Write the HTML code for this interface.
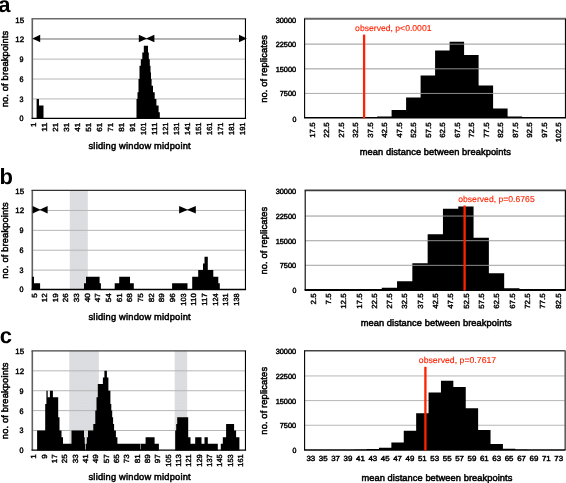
<!DOCTYPE html>
<html><head><meta charset="utf-8"><title>Figure</title>
<style>
html,body{margin:0;padding:0;background:#fff;}
svg{display:block;will-change:transform;}
text{font-family:'Liberation Sans', Arial, Helvetica, sans-serif;fill:#000;stroke:#000;stroke-width:0.45px;text-rendering:geometricPrecision;}
text.r{fill:#ff2200;stroke:#ff2200;stroke-width:0.12px;}
text.big{stroke:none;}
text.xt{stroke-width:0.4px;}
text.ti{stroke-width:0.5px;}
</style></head>
<body>
<svg width="566" height="483" viewBox="0 0 566 483">
<defs><pattern id="dots" width="2.8" height="2.8" patternUnits="userSpaceOnUse"><rect width="2.8" height="2.8" fill="#dddee1"/><circle cx="0.7" cy="0.7" r="0.45" fill="#cfd2da"/><circle cx="2.1" cy="2.1" r="0.45" fill="#d3d5dc"/></pattern></defs>
<rect width="566" height="483" fill="#fff"/>
<line x1="32.3" x2="245.6" y1="98.91" y2="98.91" stroke="#b6b6b6" stroke-width="1.0"/>
<line x1="32.3" x2="245.6" y1="79.02" y2="79.02" stroke="#b6b6b6" stroke-width="1.0"/>
<line x1="32.3" x2="245.6" y1="59.13" y2="59.13" stroke="#b6b6b6" stroke-width="1.0"/>
<line x1="32.3" x2="245.6" y1="39.24" y2="39.24" stroke="#b6b6b6" stroke-width="1.0"/>
<line x1="32.3" x2="32.3" y1="18.8" y2="118.3" stroke="#606060" stroke-width="1.6"/>
<path d="M36.60 118.80V98.91H39.00V118.80ZM39.00 118.80V105.54H43.50V118.80ZM136.50 118.80V98.91H137.50V118.80ZM137.50 118.80V92.28H138.50V118.80ZM138.50 118.80V79.02H139.50V118.80ZM139.50 118.80V65.76H140.80V118.80ZM140.80 118.80V59.13H142.30V118.80ZM142.30 118.80V52.50H143.80V118.80ZM143.80 118.80V45.87H148.00V118.80ZM148.00 118.80V52.50H148.80V118.80ZM148.80 118.80V59.13H149.80V118.80ZM149.80 118.80V65.76H150.50V118.80ZM150.50 118.80V72.39H151.00V118.80ZM151.00 118.80V79.02H151.60V118.80ZM151.60 118.80V85.65H153.00V118.80ZM153.00 118.80V92.28H154.70V118.80ZM154.70 118.80V98.91H156.40V118.80ZM156.40 118.80V105.54H158.60V118.80ZM158.60 118.80V112.17H159.80V118.80Z" fill="#000"/>
<line x1="31.499999999999996" x2="246.1" y1="18.8" y2="18.8" stroke="#6a6a6a" stroke-width="1.6"/>
<line x1="245.45" x2="245.45" y1="18.8" y2="118.3" stroke="#000" stroke-width="1.1"/>
<line x1="31.499999999999996" x2="246.1" y1="118.3" y2="118.3" stroke="#000" stroke-width="1.3"/>
<line x1="34" x2="244" y1="38.84" y2="38.84" stroke="#8c8c8c" stroke-width="0.9"/>
<path d="M32.4 38.54L40.2 34.74V42.34Z" fill="#000"/>
<path d="M147.0 38.54L138.8 34.74V42.34Z" fill="#000"/>
<path d="M146.0 38.54L154.4 34.74V42.34Z" fill="#000"/>
<path d="M246.9 38.54L239.0 34.74V42.34Z" fill="#000"/>
<text transform="translate(23.60 121.20)" font-size="7.8" text-anchor="end" textLength="3.99" lengthAdjust="spacingAndGlyphs">0</text>
<text transform="translate(23.60 101.81)" font-size="7.8" text-anchor="end" textLength="3.99" lengthAdjust="spacingAndGlyphs">3</text>
<text transform="translate(23.60 81.92)" font-size="7.8" text-anchor="end" textLength="3.99" lengthAdjust="spacingAndGlyphs">6</text>
<text transform="translate(23.60 62.03)" font-size="7.8" text-anchor="end" textLength="3.99" lengthAdjust="spacingAndGlyphs">9</text>
<text transform="translate(24.10 42.14)" font-size="7.8" text-anchor="end" textLength="8.85" lengthAdjust="spacingAndGlyphs">12</text>
<text transform="translate(24.10 22.75)" font-size="7.8" text-anchor="end" textLength="8.85" lengthAdjust="spacingAndGlyphs">15</text>
<text transform="translate(7.90 69.10) rotate(-90)" font-size="9.3" text-anchor="middle" textLength="76.50" lengthAdjust="spacing" class="ti">no. of breakpoints</text>
<text transform="translate(35.95 122.60) rotate(-90)" font-size="7.4" text-anchor="end" textLength="4.53" lengthAdjust="spacingAndGlyphs" class="xt">1</text>
<text transform="translate(46.97 122.60) rotate(-90)" font-size="7.4" text-anchor="end" textLength="9.05" lengthAdjust="spacingAndGlyphs" class="xt">11</text>
<text transform="translate(57.99 122.60) rotate(-90)" font-size="7.4" text-anchor="end" textLength="9.05" lengthAdjust="spacingAndGlyphs" class="xt">21</text>
<text transform="translate(69.01 122.60) rotate(-90)" font-size="7.4" text-anchor="end" textLength="9.05" lengthAdjust="spacingAndGlyphs" class="xt">31</text>
<text transform="translate(80.03 122.60) rotate(-90)" font-size="7.4" text-anchor="end" textLength="9.05" lengthAdjust="spacingAndGlyphs" class="xt">41</text>
<text transform="translate(91.05 122.60) rotate(-90)" font-size="7.4" text-anchor="end" textLength="9.05" lengthAdjust="spacingAndGlyphs" class="xt">51</text>
<text transform="translate(102.07 122.60) rotate(-90)" font-size="7.4" text-anchor="end" textLength="9.05" lengthAdjust="spacingAndGlyphs" class="xt">61</text>
<text transform="translate(113.09 122.60) rotate(-90)" font-size="7.4" text-anchor="end" textLength="9.05" lengthAdjust="spacingAndGlyphs" class="xt">71</text>
<text transform="translate(124.11 122.60) rotate(-90)" font-size="7.4" text-anchor="end" textLength="9.05" lengthAdjust="spacingAndGlyphs" class="xt">81</text>
<text transform="translate(135.13 122.60) rotate(-90)" font-size="7.4" text-anchor="end" textLength="9.05" lengthAdjust="spacingAndGlyphs" class="xt">91</text>
<text transform="translate(146.15 122.60) rotate(-90)" font-size="7.4" text-anchor="end" textLength="12.34" lengthAdjust="spacingAndGlyphs" class="xt">101</text>
<text transform="translate(157.17 122.60) rotate(-90)" font-size="7.4" text-anchor="end" textLength="12.34" lengthAdjust="spacingAndGlyphs" class="xt">111</text>
<text transform="translate(168.19 122.60) rotate(-90)" font-size="7.4" text-anchor="end" textLength="12.34" lengthAdjust="spacingAndGlyphs" class="xt">121</text>
<text transform="translate(179.21 122.60) rotate(-90)" font-size="7.4" text-anchor="end" textLength="12.34" lengthAdjust="spacingAndGlyphs" class="xt">131</text>
<text transform="translate(190.23 122.60) rotate(-90)" font-size="7.4" text-anchor="end" textLength="12.34" lengthAdjust="spacingAndGlyphs" class="xt">141</text>
<text transform="translate(201.25 122.60) rotate(-90)" font-size="7.4" text-anchor="end" textLength="12.34" lengthAdjust="spacingAndGlyphs" class="xt">151</text>
<text transform="translate(212.27 122.60) rotate(-90)" font-size="7.4" text-anchor="end" textLength="12.34" lengthAdjust="spacingAndGlyphs" class="xt">161</text>
<text transform="translate(223.29 122.60) rotate(-90)" font-size="7.4" text-anchor="end" textLength="12.34" lengthAdjust="spacingAndGlyphs" class="xt">171</text>
<text transform="translate(234.31 122.60) rotate(-90)" font-size="7.4" text-anchor="end" textLength="12.34" lengthAdjust="spacingAndGlyphs" class="xt">181</text>
<text transform="translate(245.33 122.60) rotate(-90)" font-size="7.4" text-anchor="end" textLength="12.34" lengthAdjust="spacingAndGlyphs" class="xt">191</text>
<text transform="translate(88.50 148.60)" font-size="9.3" text-anchor="start" textLength="102.20" lengthAdjust="spacing" class="ti">sliding window midpoint</text>
<line x1="304.6" x2="565.6" y1="93.45" y2="93.45" stroke="#b6b6b6" stroke-width="1.0"/>
<line x1="304.6" x2="565.6" y1="68.80" y2="68.80" stroke="#b6b6b6" stroke-width="1.0"/>
<line x1="304.6" x2="565.6" y1="44.15" y2="44.15" stroke="#b6b6b6" stroke-width="1.0"/>
<path d="M362.60 118.10V117.90H377.10V118.10ZM377.10 118.10V116.46H391.60V118.10ZM391.60 118.10V110.05H406.10V118.10ZM406.10 118.10V97.49H420.60V118.10ZM420.60 118.10V75.54H435.10V118.10ZM435.10 118.10V50.56H449.60V118.10ZM449.60 118.10V41.85H464.10V118.10ZM464.10 118.10V55.00H478.60V118.10ZM478.60 118.10V85.56H493.10V118.10ZM493.10 118.10V108.57H507.60V118.10ZM507.60 118.10V116.52H522.10V118.10ZM522.10 118.10V117.74H536.60V118.10ZM536.60 118.10V118.00H551.10V118.10Z" fill="#000"/>
<line x1="304.6" x2="565.6" y1="93.45" y2="93.45" stroke="#b0b0b0" stroke-width="0.8"/>
<line x1="304.6" x2="565.6" y1="68.80" y2="68.80" stroke="#b0b0b0" stroke-width="0.8"/>
<line x1="304.6" x2="565.6" y1="44.15" y2="44.15" stroke="#b0b0b0" stroke-width="0.8"/>
<line x1="304.0" x2="566.1" y1="18.8" y2="18.8" stroke="#666" stroke-width="2.0"/>
<line x1="304.6" x2="304.6" y1="18.8" y2="117.85" stroke="#000" stroke-width="1.1"/>
<rect x="564.90" y="18.8" width="1.60" height="99.05" fill="#0a0a0a"/>
<line x1="304.0" x2="566.1" y1="117.85" y2="117.85" stroke="#000" stroke-width="1.5"/>
<line x1="364.1" x2="364.1" y1="34.6" y2="118.35" stroke="#ff2200" stroke-width="2.3"/>
<text transform="translate(355.10 31.40)" font-size="8.5" text-anchor="start" textLength="76.40" lengthAdjust="spacingAndGlyphs" class="r">observed, p&lt;0.0001</text>
<text transform="translate(296.40 122.00)" font-size="7.4" text-anchor="end" textLength="3.91" lengthAdjust="spacingAndGlyphs">0</text>
<text transform="translate(296.20 96.45)" font-size="7.4" text-anchor="end" textLength="16.46" lengthAdjust="spacingAndGlyphs">7500</text>
<text transform="translate(296.20 71.80)" font-size="7.4" text-anchor="end" textLength="20.57" lengthAdjust="spacingAndGlyphs">15000</text>
<text transform="translate(296.20 47.15)" font-size="7.4" text-anchor="end" textLength="20.57" lengthAdjust="spacingAndGlyphs">22500</text>
<text transform="translate(296.20 22.50)" font-size="7.4" text-anchor="end" textLength="20.57" lengthAdjust="spacingAndGlyphs">30000</text>
<text transform="translate(267.00 68.95) rotate(-90)" font-size="9.3" text-anchor="middle" textLength="67.70" lengthAdjust="spacing" class="ti">no. of replicates</text>
<text transform="translate(314.65 122.40) rotate(-90)" font-size="7.4" text-anchor="end" textLength="15.41" lengthAdjust="spacingAndGlyphs" class="xt">17.5</text>
<text transform="translate(329.15 122.40) rotate(-90)" font-size="7.4" text-anchor="end" textLength="15.41" lengthAdjust="spacingAndGlyphs" class="xt">22.5</text>
<text transform="translate(343.65 122.40) rotate(-90)" font-size="7.4" text-anchor="end" textLength="15.41" lengthAdjust="spacingAndGlyphs" class="xt">27.5</text>
<text transform="translate(358.15 122.40) rotate(-90)" font-size="7.4" text-anchor="end" textLength="15.41" lengthAdjust="spacingAndGlyphs" class="xt">32.5</text>
<text transform="translate(372.65 122.40) rotate(-90)" font-size="7.4" text-anchor="end" textLength="15.41" lengthAdjust="spacingAndGlyphs" class="xt">37.5</text>
<text transform="translate(387.15 122.40) rotate(-90)" font-size="7.4" text-anchor="end" textLength="15.41" lengthAdjust="spacingAndGlyphs" class="xt">42.5</text>
<text transform="translate(401.65 122.40) rotate(-90)" font-size="7.4" text-anchor="end" textLength="15.41" lengthAdjust="spacingAndGlyphs" class="xt">47.5</text>
<text transform="translate(416.15 122.40) rotate(-90)" font-size="7.4" text-anchor="end" textLength="15.41" lengthAdjust="spacingAndGlyphs" class="xt">52.5</text>
<text transform="translate(430.65 122.40) rotate(-90)" font-size="7.4" text-anchor="end" textLength="15.41" lengthAdjust="spacingAndGlyphs" class="xt">57.5</text>
<text transform="translate(445.15 122.40) rotate(-90)" font-size="7.4" text-anchor="end" textLength="15.41" lengthAdjust="spacingAndGlyphs" class="xt">62.5</text>
<text transform="translate(459.65 122.40) rotate(-90)" font-size="7.4" text-anchor="end" textLength="15.41" lengthAdjust="spacingAndGlyphs" class="xt">67.5</text>
<text transform="translate(474.15 122.40) rotate(-90)" font-size="7.4" text-anchor="end" textLength="15.41" lengthAdjust="spacingAndGlyphs" class="xt">72.5</text>
<text transform="translate(488.65 122.40) rotate(-90)" font-size="7.4" text-anchor="end" textLength="15.41" lengthAdjust="spacingAndGlyphs" class="xt">77.5</text>
<text transform="translate(503.15 122.40) rotate(-90)" font-size="7.4" text-anchor="end" textLength="15.41" lengthAdjust="spacingAndGlyphs" class="xt">82.5</text>
<text transform="translate(517.65 122.40) rotate(-90)" font-size="7.4" text-anchor="end" textLength="15.41" lengthAdjust="spacingAndGlyphs" class="xt">87.5</text>
<text transform="translate(532.15 122.40) rotate(-90)" font-size="7.4" text-anchor="end" textLength="15.41" lengthAdjust="spacingAndGlyphs" class="xt">92.5</text>
<text transform="translate(546.65 122.40) rotate(-90)" font-size="7.4" text-anchor="end" textLength="15.41" lengthAdjust="spacingAndGlyphs" class="xt">97.5</text>
<text transform="translate(561.15 122.40) rotate(-90)" font-size="7.4" text-anchor="end" textLength="19.81" lengthAdjust="spacingAndGlyphs" class="xt">102.5</text>
<text transform="translate(359.80 154.60)" font-size="9.3" text-anchor="start" textLength="151.00" lengthAdjust="spacing" class="ti">mean distance between breakpoints</text>
<rect x="69.8" y="190.35" width="18.00" height="99.15" fill="url(#dots)"/>
<line x1="32.3" x2="245.6" y1="270.11" y2="270.11" stroke="#b6b6b6" stroke-width="1.0"/>
<line x1="32.3" x2="245.6" y1="250.22" y2="250.22" stroke="#b6b6b6" stroke-width="1.0"/>
<line x1="32.3" x2="245.6" y1="230.33" y2="230.33" stroke="#b6b6b6" stroke-width="1.0"/>
<line x1="32.3" x2="245.6" y1="210.44" y2="210.44" stroke="#b6b6b6" stroke-width="1.0"/>
<line x1="32.3" x2="32.3" y1="190.35" y2="289.5" stroke="#606060" stroke-width="1.6"/>
<path d="M31.90 290.00V276.74H34.00V290.00ZM34.00 290.00V283.37H40.10V290.00ZM84.00 290.00V283.37H86.00V290.00ZM86.00 290.00V276.74H99.60V290.00ZM99.60 290.00V283.37H100.90V290.00ZM114.70 290.00V283.37H119.20V290.00ZM119.20 290.00V276.74H130.00V290.00ZM130.00 290.00V283.37H133.80V290.00ZM172.10 290.00V283.37H187.50V290.00ZM192.20 290.00V276.74H198.20V290.00ZM198.20 290.00V270.11H203.00V290.00ZM203.00 290.00V263.48H204.50V290.00ZM204.50 290.00V256.85H207.80V290.00ZM207.80 290.00V270.11H213.30V290.00ZM213.30 290.00V276.74H218.30V290.00ZM218.30 290.00V283.37H219.80V290.00Z" fill="#000"/>
<line x1="31.499999999999996" x2="246.1" y1="190.35" y2="190.35" stroke="#333" stroke-width="1.35"/>
<line x1="245.45" x2="245.45" y1="190.35" y2="289.5" stroke="#000" stroke-width="1.1"/>
<line x1="31.499999999999996" x2="246.1" y1="289.5" y2="289.5" stroke="#000" stroke-width="1.3"/>
<path d="M40.6 209.74L32.6 205.94V213.54Z" fill="#000"/>
<path d="M39.6 209.74L47.6 205.94V213.54Z" fill="#000"/>
<path d="M187.9 209.74L179.1 205.94V213.54Z" fill="#000"/>
<path d="M186.9 209.74L195.8 205.94V213.54Z" fill="#000"/>
<text transform="translate(23.60 292.40)" font-size="7.8" text-anchor="end" textLength="3.99" lengthAdjust="spacingAndGlyphs">0</text>
<text transform="translate(23.60 273.01)" font-size="7.8" text-anchor="end" textLength="3.99" lengthAdjust="spacingAndGlyphs">3</text>
<text transform="translate(23.60 253.12)" font-size="7.8" text-anchor="end" textLength="3.99" lengthAdjust="spacingAndGlyphs">6</text>
<text transform="translate(23.60 233.23)" font-size="7.8" text-anchor="end" textLength="3.99" lengthAdjust="spacingAndGlyphs">9</text>
<text transform="translate(24.10 213.34)" font-size="7.8" text-anchor="end" textLength="8.85" lengthAdjust="spacingAndGlyphs">12</text>
<text transform="translate(24.10 193.95)" font-size="7.8" text-anchor="end" textLength="8.85" lengthAdjust="spacingAndGlyphs">15</text>
<text transform="translate(7.90 240.48) rotate(-90)" font-size="9.3" text-anchor="middle" textLength="76.50" lengthAdjust="spacing" class="ti">no. of breakpoints</text>
<text transform="translate(36.50 293.30) rotate(-90)" font-size="7.4" text-anchor="end" textLength="4.53" lengthAdjust="spacingAndGlyphs" class="xt">5</text>
<text transform="translate(47.15 293.30) rotate(-90)" font-size="7.4" text-anchor="end" textLength="9.05" lengthAdjust="spacingAndGlyphs" class="xt">12</text>
<text transform="translate(57.80 293.30) rotate(-90)" font-size="7.4" text-anchor="end" textLength="9.05" lengthAdjust="spacingAndGlyphs" class="xt">19</text>
<text transform="translate(68.45 293.30) rotate(-90)" font-size="7.4" text-anchor="end" textLength="9.05" lengthAdjust="spacingAndGlyphs" class="xt">26</text>
<text transform="translate(79.10 293.30) rotate(-90)" font-size="7.4" text-anchor="end" textLength="9.05" lengthAdjust="spacingAndGlyphs" class="xt">33</text>
<text transform="translate(89.75 293.30) rotate(-90)" font-size="7.4" text-anchor="end" textLength="9.05" lengthAdjust="spacingAndGlyphs" class="xt">40</text>
<text transform="translate(100.40 293.30) rotate(-90)" font-size="7.4" text-anchor="end" textLength="9.05" lengthAdjust="spacingAndGlyphs" class="xt">47</text>
<text transform="translate(111.05 293.30) rotate(-90)" font-size="7.4" text-anchor="end" textLength="9.05" lengthAdjust="spacingAndGlyphs" class="xt">54</text>
<text transform="translate(121.70 293.30) rotate(-90)" font-size="7.4" text-anchor="end" textLength="9.05" lengthAdjust="spacingAndGlyphs" class="xt">61</text>
<text transform="translate(132.35 293.30) rotate(-90)" font-size="7.4" text-anchor="end" textLength="9.05" lengthAdjust="spacingAndGlyphs" class="xt">68</text>
<text transform="translate(143.00 293.30) rotate(-90)" font-size="7.4" text-anchor="end" textLength="9.05" lengthAdjust="spacingAndGlyphs" class="xt">75</text>
<text transform="translate(153.65 293.30) rotate(-90)" font-size="7.4" text-anchor="end" textLength="9.05" lengthAdjust="spacingAndGlyphs" class="xt">82</text>
<text transform="translate(164.30 293.30) rotate(-90)" font-size="7.4" text-anchor="end" textLength="9.05" lengthAdjust="spacingAndGlyphs" class="xt">89</text>
<text transform="translate(174.95 293.30) rotate(-90)" font-size="7.4" text-anchor="end" textLength="9.05" lengthAdjust="spacingAndGlyphs" class="xt">96</text>
<text transform="translate(185.60 293.30) rotate(-90)" font-size="7.4" text-anchor="end" textLength="12.34" lengthAdjust="spacingAndGlyphs" class="xt">103</text>
<text transform="translate(196.25 293.30) rotate(-90)" font-size="7.4" text-anchor="end" textLength="12.34" lengthAdjust="spacingAndGlyphs" class="xt">110</text>
<text transform="translate(206.90 293.30) rotate(-90)" font-size="7.4" text-anchor="end" textLength="12.34" lengthAdjust="spacingAndGlyphs" class="xt">117</text>
<text transform="translate(217.55 293.30) rotate(-90)" font-size="7.4" text-anchor="end" textLength="12.34" lengthAdjust="spacingAndGlyphs" class="xt">124</text>
<text transform="translate(228.20 293.30) rotate(-90)" font-size="7.4" text-anchor="end" textLength="12.34" lengthAdjust="spacingAndGlyphs" class="xt">131</text>
<text transform="translate(238.85 293.30) rotate(-90)" font-size="7.4" text-anchor="end" textLength="12.34" lengthAdjust="spacingAndGlyphs" class="xt">138</text>
<text transform="translate(88.50 319.90)" font-size="9.3" text-anchor="start" textLength="102.20" lengthAdjust="spacing" class="ti">sliding window midpoint</text>
<line x1="305.2" x2="565.4" y1="265.35" y2="265.35" stroke="#b6b6b6" stroke-width="1.0"/>
<line x1="305.2" x2="565.4" y1="240.70" y2="240.70" stroke="#b6b6b6" stroke-width="1.0"/>
<line x1="305.2" x2="565.4" y1="216.05" y2="216.05" stroke="#b6b6b6" stroke-width="1.0"/>
<path d="M366.42 290.00V289.87H381.73V290.00ZM381.73 290.00V287.80H397.04V290.00ZM397.04 290.00V281.32H412.34V290.00ZM412.34 290.00V263.31H427.65V290.00ZM427.65 290.00V234.13H442.95V290.00ZM442.95 290.00V208.82H458.26V290.00ZM458.26 290.00V206.52H473.56V290.00ZM473.56 290.00V237.74H488.87V290.00ZM488.87 290.00V273.24H504.18V290.00ZM504.18 290.00V288.29H519.48V290.00ZM519.48 290.00V289.80H534.79V290.00Z" fill="#000"/>
<line x1="305.2" x2="565.4" y1="265.35" y2="265.35" stroke="#b0b0b0" stroke-width="0.8"/>
<line x1="305.2" x2="565.4" y1="240.70" y2="240.70" stroke="#b0b0b0" stroke-width="0.8"/>
<line x1="305.2" x2="565.4" y1="216.05" y2="216.05" stroke="#b0b0b0" stroke-width="0.8"/>
<line x1="304.59999999999997" x2="565.9" y1="190.4" y2="190.4" stroke="#3c3c3c" stroke-width="1.9"/>
<line x1="305.2" x2="305.2" y1="190.4" y2="290.0" stroke="#000" stroke-width="1.1"/>
<rect x="564.80" y="190.4" width="1.70" height="99.60" fill="#0a0a0a"/>
<line x1="304.59999999999997" x2="565.9" y1="290.0" y2="290.0" stroke="#000" stroke-width="1.8"/>
<line x1="464.6" x2="464.6" y1="205.5" y2="290.50" stroke="#ff2200" stroke-width="2.3"/>
<text transform="translate(458.20 202.10)" font-size="8.5" text-anchor="start" textLength="76.50" lengthAdjust="spacingAndGlyphs" class="r">observed, p=0.6765</text>
<text transform="translate(296.40 293.00)" font-size="7.4" text-anchor="end" textLength="3.91" lengthAdjust="spacingAndGlyphs">0</text>
<text transform="translate(296.20 268.35)" font-size="7.4" text-anchor="end" textLength="16.46" lengthAdjust="spacingAndGlyphs">7500</text>
<text transform="translate(296.20 243.70)" font-size="7.4" text-anchor="end" textLength="20.57" lengthAdjust="spacingAndGlyphs">15000</text>
<text transform="translate(296.20 219.05)" font-size="7.4" text-anchor="end" textLength="20.57" lengthAdjust="spacingAndGlyphs">22500</text>
<text transform="translate(296.20 194.40)" font-size="7.4" text-anchor="end" textLength="20.57" lengthAdjust="spacingAndGlyphs">30000</text>
<text transform="translate(267.00 240.70) rotate(-90)" font-size="9.3" text-anchor="middle" textLength="67.70" lengthAdjust="spacing" class="ti">no. of replicates</text>
<text transform="translate(315.65 293.40) rotate(-90)" font-size="7.4" text-anchor="end" textLength="11.01" lengthAdjust="spacingAndGlyphs" class="xt">2.5</text>
<text transform="translate(330.96 293.40) rotate(-90)" font-size="7.4" text-anchor="end" textLength="11.01" lengthAdjust="spacingAndGlyphs" class="xt">7.5</text>
<text transform="translate(346.26 293.40) rotate(-90)" font-size="7.4" text-anchor="end" textLength="15.41" lengthAdjust="spacingAndGlyphs" class="xt">12.5</text>
<text transform="translate(361.57 293.40) rotate(-90)" font-size="7.4" text-anchor="end" textLength="15.41" lengthAdjust="spacingAndGlyphs" class="xt">17.5</text>
<text transform="translate(376.88 293.40) rotate(-90)" font-size="7.4" text-anchor="end" textLength="15.41" lengthAdjust="spacingAndGlyphs" class="xt">22.5</text>
<text transform="translate(392.18 293.40) rotate(-90)" font-size="7.4" text-anchor="end" textLength="15.41" lengthAdjust="spacingAndGlyphs" class="xt">27.5</text>
<text transform="translate(407.49 293.40) rotate(-90)" font-size="7.4" text-anchor="end" textLength="15.41" lengthAdjust="spacingAndGlyphs" class="xt">32.5</text>
<text transform="translate(422.79 293.40) rotate(-90)" font-size="7.4" text-anchor="end" textLength="15.41" lengthAdjust="spacingAndGlyphs" class="xt">37.5</text>
<text transform="translate(438.10 293.40) rotate(-90)" font-size="7.4" text-anchor="end" textLength="15.41" lengthAdjust="spacingAndGlyphs" class="xt">42.5</text>
<text transform="translate(453.41 293.40) rotate(-90)" font-size="7.4" text-anchor="end" textLength="15.41" lengthAdjust="spacingAndGlyphs" class="xt">47.5</text>
<text transform="translate(468.71 293.40) rotate(-90)" font-size="7.4" text-anchor="end" textLength="15.41" lengthAdjust="spacingAndGlyphs" class="xt">52.5</text>
<text transform="translate(484.02 293.40) rotate(-90)" font-size="7.4" text-anchor="end" textLength="15.41" lengthAdjust="spacingAndGlyphs" class="xt">57.5</text>
<text transform="translate(499.32 293.40) rotate(-90)" font-size="7.4" text-anchor="end" textLength="15.41" lengthAdjust="spacingAndGlyphs" class="xt">62.5</text>
<text transform="translate(514.63 293.40) rotate(-90)" font-size="7.4" text-anchor="end" textLength="15.41" lengthAdjust="spacingAndGlyphs" class="xt">67.5</text>
<text transform="translate(529.94 293.40) rotate(-90)" font-size="7.4" text-anchor="end" textLength="15.41" lengthAdjust="spacingAndGlyphs" class="xt">72.5</text>
<text transform="translate(545.24 293.40) rotate(-90)" font-size="7.4" text-anchor="end" textLength="15.41" lengthAdjust="spacingAndGlyphs" class="xt">77.5</text>
<text transform="translate(560.55 293.40) rotate(-90)" font-size="7.4" text-anchor="end" textLength="15.41" lengthAdjust="spacingAndGlyphs" class="xt">82.5</text>
<text transform="translate(360.70 325.60)" font-size="9.3" text-anchor="start" textLength="151.00" lengthAdjust="spacing" class="ti">mean distance between breakpoints</text>
<rect x="69.3" y="350.8" width="29.50" height="99.35" fill="url(#dots)"/>
<rect x="174.7" y="350.8" width="12.50" height="99.35" fill="url(#dots)"/>
<line x1="32.3" x2="245.6" y1="430.51" y2="430.51" stroke="#b6b6b6" stroke-width="1.0"/>
<line x1="32.3" x2="245.6" y1="410.62" y2="410.62" stroke="#b6b6b6" stroke-width="1.0"/>
<line x1="32.3" x2="245.6" y1="390.73" y2="390.73" stroke="#b6b6b6" stroke-width="1.0"/>
<line x1="32.3" x2="245.6" y1="370.84" y2="370.84" stroke="#b6b6b6" stroke-width="1.0"/>
<line x1="32.3" x2="32.3" y1="350.8" y2="450.15" stroke="#606060" stroke-width="1.6"/>
<path d="M37.10 450.40V430.51H45.20V450.40ZM45.20 450.40V403.99H46.40V450.40ZM46.40 450.40V390.73H47.70V450.40ZM47.70 450.40V397.36H49.90V450.40ZM49.90 450.40V390.73H52.90V450.40ZM52.90 450.40V397.36H58.20V450.40ZM58.20 450.40V417.25H59.50V450.40ZM59.50 450.40V430.51H61.50V450.40ZM61.50 450.40V437.14H63.00V450.40ZM63.00 450.40V443.77H71.50V450.40ZM71.50 450.40V430.51H84.00V450.40ZM84.00 450.40V437.14H84.70V450.40ZM84.70 450.40V443.77H85.20V450.40ZM85.90 450.40V443.77H86.80V450.40ZM86.80 450.40V437.14H88.00V450.40ZM88.00 450.40V430.51H93.30V450.40ZM93.30 450.40V423.88H95.30V450.40ZM95.30 450.40V410.62H96.50V450.40ZM96.50 450.40V397.36H97.80V450.40ZM97.80 450.40V384.10H102.90V450.40ZM102.90 450.40V377.47H104.40V450.40ZM104.40 450.40V370.84H106.90V450.40ZM106.90 450.40V377.47H108.40V450.40ZM108.40 450.40V390.73H110.40V450.40ZM110.40 450.40V403.99H111.30V450.40ZM111.30 450.40V410.62H112.20V450.40ZM112.20 450.40V417.25H113.10V450.40ZM113.10 450.40V423.88H114.10V450.40ZM114.10 450.40V430.51H115.90V450.40ZM115.90 450.40V437.14H117.40V450.40ZM117.40 450.40V443.77H145.60V450.40ZM145.60 450.40V437.14H154.60V450.40ZM154.60 450.40V443.77H158.90V450.40ZM175.20 450.40V430.51H176.20V450.40ZM176.20 450.40V423.88H177.20V450.40ZM177.20 450.40V417.25H188.20V450.40ZM188.20 450.40V437.14H190.50V450.40ZM190.50 450.40V443.77H195.20V450.40ZM195.20 450.40V437.14H201.50V450.40ZM201.50 450.40V443.77H204.50V450.40ZM204.50 450.40V437.14H207.80V450.40ZM207.80 450.40V443.77H217.80V450.40ZM220.80 450.40V443.77H222.80V450.40ZM222.80 450.40V437.14H226.10V450.40ZM226.10 450.40V423.88H234.10V450.40ZM234.10 450.40V430.51H236.10V450.40ZM236.10 450.40V437.14H239.40V450.40Z" fill="#000"/>
<rect x="140.25" y="443.60" width="0.5" height="5.80" fill="#fff"/>
<line x1="31.499999999999996" x2="246.1" y1="350.8" y2="350.8" stroke="#444" stroke-width="1.35"/>
<line x1="245.45" x2="245.45" y1="350.8" y2="450.15" stroke="#000" stroke-width="1.1"/>
<line x1="31.499999999999996" x2="246.1" y1="450.15" y2="450.15" stroke="#000" stroke-width="1.3"/>
<text transform="translate(23.60 452.80)" font-size="7.8" text-anchor="end" textLength="3.99" lengthAdjust="spacingAndGlyphs">0</text>
<text transform="translate(23.60 433.41)" font-size="7.8" text-anchor="end" textLength="3.99" lengthAdjust="spacingAndGlyphs">3</text>
<text transform="translate(23.60 413.52)" font-size="7.8" text-anchor="end" textLength="3.99" lengthAdjust="spacingAndGlyphs">6</text>
<text transform="translate(23.60 393.63)" font-size="7.8" text-anchor="end" textLength="3.99" lengthAdjust="spacingAndGlyphs">9</text>
<text transform="translate(24.10 373.74)" font-size="7.8" text-anchor="end" textLength="8.85" lengthAdjust="spacingAndGlyphs">12</text>
<text transform="translate(24.10 354.35)" font-size="7.8" text-anchor="end" textLength="8.85" lengthAdjust="spacingAndGlyphs">15</text>
<text transform="translate(7.90 400.90) rotate(-90)" font-size="9.3" text-anchor="middle" textLength="76.50" lengthAdjust="spacing" class="ti">no. of breakpoints</text>
<text transform="translate(36.15 454.30) rotate(-90)" font-size="7.4" text-anchor="end" textLength="4.53" lengthAdjust="spacingAndGlyphs" class="xt">1</text>
<text transform="translate(46.50 454.30) rotate(-90)" font-size="7.4" text-anchor="end" textLength="4.53" lengthAdjust="spacingAndGlyphs" class="xt">9</text>
<text transform="translate(56.85 454.30) rotate(-90)" font-size="7.4" text-anchor="end" textLength="9.05" lengthAdjust="spacingAndGlyphs" class="xt">17</text>
<text transform="translate(67.20 454.30) rotate(-90)" font-size="7.4" text-anchor="end" textLength="9.05" lengthAdjust="spacingAndGlyphs" class="xt">25</text>
<text transform="translate(77.55 454.30) rotate(-90)" font-size="7.4" text-anchor="end" textLength="9.05" lengthAdjust="spacingAndGlyphs" class="xt">33</text>
<text transform="translate(87.90 454.30) rotate(-90)" font-size="7.4" text-anchor="end" textLength="9.05" lengthAdjust="spacingAndGlyphs" class="xt">41</text>
<text transform="translate(98.25 454.30) rotate(-90)" font-size="7.4" text-anchor="end" textLength="9.05" lengthAdjust="spacingAndGlyphs" class="xt">49</text>
<text transform="translate(108.60 454.30) rotate(-90)" font-size="7.4" text-anchor="end" textLength="9.05" lengthAdjust="spacingAndGlyphs" class="xt">57</text>
<text transform="translate(118.95 454.30) rotate(-90)" font-size="7.4" text-anchor="end" textLength="9.05" lengthAdjust="spacingAndGlyphs" class="xt">65</text>
<text transform="translate(129.30 454.30) rotate(-90)" font-size="7.4" text-anchor="end" textLength="9.05" lengthAdjust="spacingAndGlyphs" class="xt">73</text>
<text transform="translate(139.65 454.30) rotate(-90)" font-size="7.4" text-anchor="end" textLength="9.05" lengthAdjust="spacingAndGlyphs" class="xt">81</text>
<text transform="translate(150.00 454.30) rotate(-90)" font-size="7.4" text-anchor="end" textLength="9.05" lengthAdjust="spacingAndGlyphs" class="xt">89</text>
<text transform="translate(160.35 454.30) rotate(-90)" font-size="7.4" text-anchor="end" textLength="9.05" lengthAdjust="spacingAndGlyphs" class="xt">97</text>
<text transform="translate(170.70 454.30) rotate(-90)" font-size="7.4" text-anchor="end" textLength="12.34" lengthAdjust="spacingAndGlyphs" class="xt">105</text>
<text transform="translate(181.05 454.30) rotate(-90)" font-size="7.4" text-anchor="end" textLength="12.34" lengthAdjust="spacingAndGlyphs" class="xt">113</text>
<text transform="translate(191.40 454.30) rotate(-90)" font-size="7.4" text-anchor="end" textLength="12.34" lengthAdjust="spacingAndGlyphs" class="xt">121</text>
<text transform="translate(201.75 454.30) rotate(-90)" font-size="7.4" text-anchor="end" textLength="12.34" lengthAdjust="spacingAndGlyphs" class="xt">129</text>
<text transform="translate(212.10 454.30) rotate(-90)" font-size="7.4" text-anchor="end" textLength="12.34" lengthAdjust="spacingAndGlyphs" class="xt">137</text>
<text transform="translate(222.45 454.30) rotate(-90)" font-size="7.4" text-anchor="end" textLength="12.34" lengthAdjust="spacingAndGlyphs" class="xt">145</text>
<text transform="translate(232.80 454.30) rotate(-90)" font-size="7.4" text-anchor="end" textLength="12.34" lengthAdjust="spacingAndGlyphs" class="xt">153</text>
<text transform="translate(243.15 454.30) rotate(-90)" font-size="7.4" text-anchor="end" textLength="12.34" lengthAdjust="spacingAndGlyphs" class="xt">161</text>
<text transform="translate(88.50 480.10)" font-size="9.3" text-anchor="start" textLength="102.20" lengthAdjust="spacing" class="ti">sliding window midpoint</text>
<line x1="304.6" x2="564.9" y1="425.25" y2="425.25" stroke="#b6b6b6" stroke-width="1.0"/>
<line x1="304.6" x2="564.9" y1="400.60" y2="400.60" stroke="#b6b6b6" stroke-width="1.0"/>
<line x1="304.6" x2="564.9" y1="375.95" y2="375.95" stroke="#b6b6b6" stroke-width="1.0"/>
<path d="M354.18 449.90V449.64H366.58V449.90ZM366.58 449.90V448.91H378.97V449.90ZM378.97 449.90V447.67H391.37V449.90ZM391.37 449.90V442.41H403.76V449.90ZM403.76 449.90V430.67H416.16V449.90ZM416.16 449.90V413.22H428.55V449.90ZM428.55 449.90V392.38H440.95V449.90ZM440.95 449.90V380.72H453.34V449.90ZM453.34 449.90V386.96H465.74V449.90ZM465.74 449.90V408.16H478.13V449.90ZM478.13 449.90V429.98H490.53V449.90ZM490.53 449.90V443.98H502.92V449.90ZM502.92 449.90V448.68H515.32V449.90ZM515.32 449.90V449.70H527.71V449.90Z" fill="#000"/>
<line x1="304.0" x2="565.4" y1="350.7" y2="350.7" stroke="#444" stroke-width="1.4"/>
<line x1="304.6" x2="304.6" y1="350.7" y2="450.0" stroke="#000" stroke-width="1.1"/>
<rect x="564.40" y="350.7" width="2.10" height="99.30" fill="#606060"/>
<line x1="304.0" x2="565.4" y1="450.0" y2="450.0" stroke="#000" stroke-width="1.5"/>
<line x1="425.4" x2="425.4" y1="366.8" y2="450.50" stroke="#ff2200" stroke-width="2.3"/>
<text transform="translate(418.80 362.60)" font-size="8.5" text-anchor="start" textLength="77.40" lengthAdjust="spacingAndGlyphs" class="r">observed, p=0.7617</text>
<text transform="translate(296.40 452.90)" font-size="7.4" text-anchor="end" textLength="3.91" lengthAdjust="spacingAndGlyphs">0</text>
<text transform="translate(296.20 428.25)" font-size="7.4" text-anchor="end" textLength="16.46" lengthAdjust="spacingAndGlyphs">7500</text>
<text transform="translate(296.20 403.60)" font-size="7.4" text-anchor="end" textLength="20.57" lengthAdjust="spacingAndGlyphs">15000</text>
<text transform="translate(296.20 378.95)" font-size="7.4" text-anchor="end" textLength="20.57" lengthAdjust="spacingAndGlyphs">22500</text>
<text transform="translate(296.20 354.30)" font-size="7.4" text-anchor="end" textLength="20.57" lengthAdjust="spacingAndGlyphs">30000</text>
<text transform="translate(267.00 400.80) rotate(-90)" font-size="9.3" text-anchor="middle" textLength="67.70" lengthAdjust="spacing" class="ti">no. of replicates</text>
<text transform="translate(310.80 461.45)" font-size="7.4" text-anchor="middle" textLength="8.80" lengthAdjust="spacingAndGlyphs">33</text>
<text transform="translate(323.19 461.45)" font-size="7.4" text-anchor="middle" textLength="8.80" lengthAdjust="spacingAndGlyphs">35</text>
<text transform="translate(335.59 461.45)" font-size="7.4" text-anchor="middle" textLength="8.80" lengthAdjust="spacingAndGlyphs">37</text>
<text transform="translate(347.98 461.45)" font-size="7.4" text-anchor="middle" textLength="8.80" lengthAdjust="spacingAndGlyphs">39</text>
<text transform="translate(360.38 461.45)" font-size="7.4" text-anchor="middle" textLength="8.80" lengthAdjust="spacingAndGlyphs">41</text>
<text transform="translate(372.77 461.45)" font-size="7.4" text-anchor="middle" textLength="8.80" lengthAdjust="spacingAndGlyphs">43</text>
<text transform="translate(385.17 461.45)" font-size="7.4" text-anchor="middle" textLength="8.80" lengthAdjust="spacingAndGlyphs">45</text>
<text transform="translate(397.56 461.45)" font-size="7.4" text-anchor="middle" textLength="8.80" lengthAdjust="spacingAndGlyphs">47</text>
<text transform="translate(409.96 461.45)" font-size="7.4" text-anchor="middle" textLength="8.80" lengthAdjust="spacingAndGlyphs">49</text>
<text transform="translate(422.35 461.45)" font-size="7.4" text-anchor="middle" textLength="8.80" lengthAdjust="spacingAndGlyphs">51</text>
<text transform="translate(434.75 461.45)" font-size="7.4" text-anchor="middle" textLength="8.80" lengthAdjust="spacingAndGlyphs">53</text>
<text transform="translate(447.15 461.45)" font-size="7.4" text-anchor="middle" textLength="8.80" lengthAdjust="spacingAndGlyphs">55</text>
<text transform="translate(459.54 461.45)" font-size="7.4" text-anchor="middle" textLength="8.80" lengthAdjust="spacingAndGlyphs">57</text>
<text transform="translate(471.94 461.45)" font-size="7.4" text-anchor="middle" textLength="8.80" lengthAdjust="spacingAndGlyphs">59</text>
<text transform="translate(484.33 461.45)" font-size="7.4" text-anchor="middle" textLength="8.80" lengthAdjust="spacingAndGlyphs">61</text>
<text transform="translate(496.73 461.45)" font-size="7.4" text-anchor="middle" textLength="8.80" lengthAdjust="spacingAndGlyphs">63</text>
<text transform="translate(509.12 461.45)" font-size="7.4" text-anchor="middle" textLength="8.80" lengthAdjust="spacingAndGlyphs">65</text>
<text transform="translate(521.52 461.45)" font-size="7.4" text-anchor="middle" textLength="8.80" lengthAdjust="spacingAndGlyphs">67</text>
<text transform="translate(533.91 461.45)" font-size="7.4" text-anchor="middle" textLength="8.80" lengthAdjust="spacingAndGlyphs">69</text>
<text transform="translate(546.31 461.45)" font-size="7.4" text-anchor="middle" textLength="8.80" lengthAdjust="spacingAndGlyphs">71</text>
<text transform="translate(558.70 461.45)" font-size="7.4" text-anchor="middle" textLength="8.80" lengthAdjust="spacingAndGlyphs">73</text>
<text transform="translate(361.40 480.90)" font-size="9.3" text-anchor="start" textLength="151.00" lengthAdjust="spacing" class="ti">mean distance between breakpoints</text>
<text x="-1.7" y="11.5" class="big" font-size="22" font-weight="bold">a</text>
<text x="-0.6" y="183.8" class="big" font-size="22" font-weight="bold">b</text>
<text x="-0.2" y="343.1" class="big" font-size="22" font-weight="bold">c</text>
</svg>
</body></html>
